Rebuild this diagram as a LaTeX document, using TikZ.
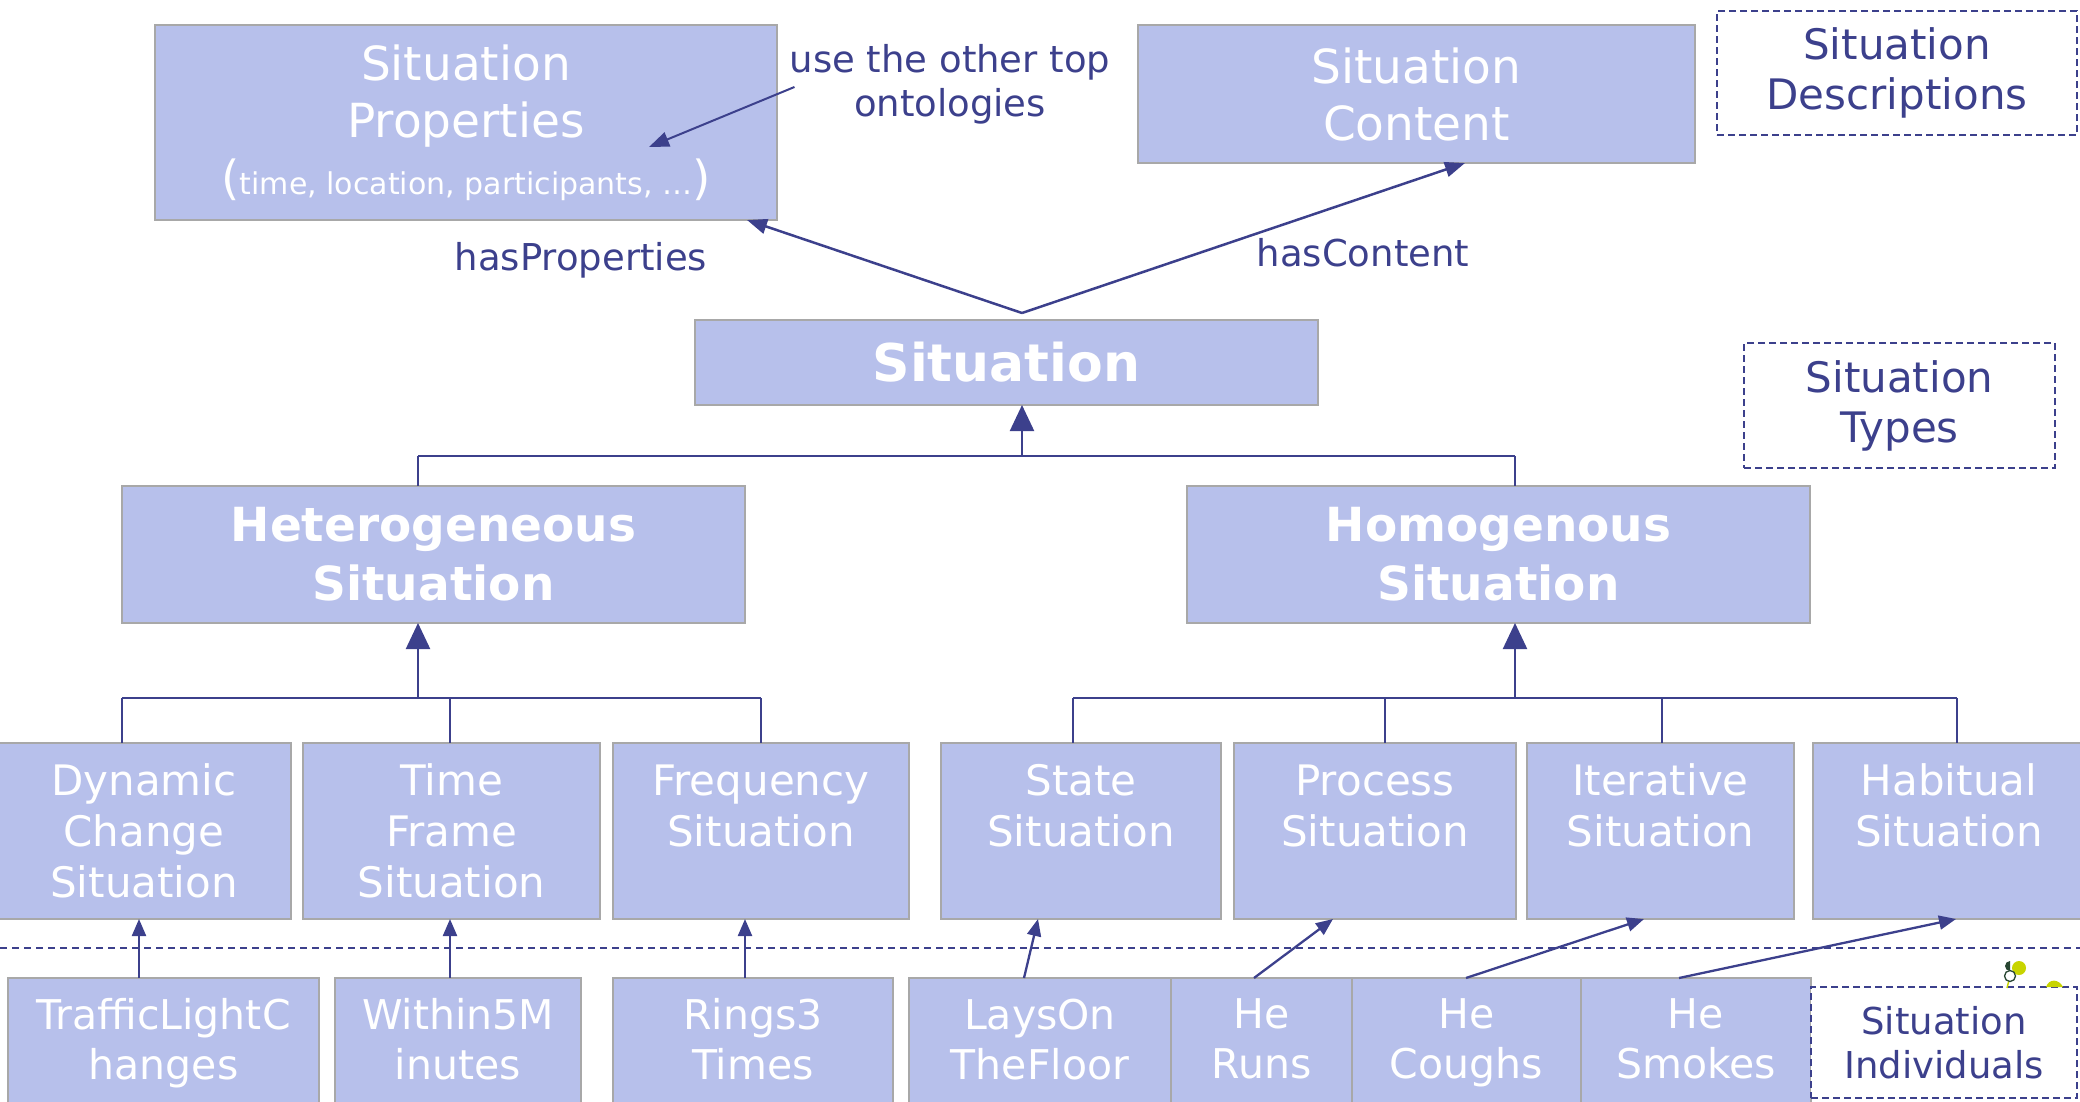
\documentclass[tikz,border=0pt]{standalone}
\usepackage{fontspec}
\setmainfont{DejaVu Sans}
\usetikzlibrary{arrows.meta}
\definecolor{boxfill}{RGB}{183,192,235}
\definecolor{boxline}{RGB}{168,168,168}
\definecolor{ink}{RGB}{60,64,140}
\definecolor{leaf}{RGB}{200,212,0}
\definecolor{leafdark}{RGB}{40,70,50}

\begin{document}
\begin{tikzpicture}[x=1pt,y=-1pt,
  box/.style={rectangle, draw=boxline, line width=2.5pt, fill=boxfill, text=white,
    inner sep=0pt, outer sep=0pt, align=center},
  tagbox/.style={rectangle, draw=ink, line width=2pt, dash pattern=on 7pt off 4pt,
    fill=white, text=ink, inner sep=0pt, outer sep=0pt, align=center},
  lbl/.style={text=ink, inner sep=0pt, align=center, font=\fontsize{37}{44}\selectfont},
  ftop/.style={font=\fontsize{47}{57}\selectfont},
  fmain/.style={font=\bfseries\fontsize{52}{60}\selectfont},
  fmid/.style={font=\bfseries\fontsize{47}{59}\selectfont},
  flow/.style={font=\fontsize{42}{51}\selectfont},
  fbot/.style={font=\fontsize{41}{50}\selectfont, execute at end node={\strut}},
  ftag/.style={font=\fontsize{42}{50}\selectfont},
  wire/.style={draw=ink, line width=2pt},
  bar/.style={draw=ink, line width=2.6pt},
  bigarr/.style={draw=ink, line width=2.2pt, -{Triangle[length=26pt,width=24pt]}},
  midarr/.style={draw=ink, line width=2.5pt, -{Triangle[length=20pt,width=15pt]}},
  smallarr/.style={draw=ink, line width=2.3pt, -{Triangle[length=17pt,width=14pt]}},
]
\useasboundingbox (0,0) rectangle (2080,1101);
\clip (0,0) rectangle (2080,1101);

% ---------- descriptions ----------
\node[box, ftop, minimum width=622pt, minimum height=195pt] (prop) at (466,122.5)
  {Situation\\Properties\\({\fontsize{30}{57}\selectfont time, location, participants, …})};
\node[box, ftop, minimum width=557pt, minimum height=138pt] (cont) at (1416.5,94)
  {Situation\\Content};
\node[tagbox, ftag, minimum width=360pt, minimum height=124pt] (descr) at (1897,73)
  {Situation\\Descriptions};
\node[lbl] (note) at (950,84) {use the other top\\ontologies};
\node[lbl] (hasprop) at (581,260) {hasProperties};
\node[lbl] (hascont) at (1363,253) {hasContent};

% ---------- types ----------
\node[box, fmain, minimum width=623pt, minimum height=85pt] (sit) at (1006.5,362.5) {Situation};
\node[tagbox, ftag, minimum width=311pt, minimum height=125pt] (types) at (1899.5,405.5)
  {Situation\\Types};
\node[box, fmid, minimum width=623pt, minimum height=137pt] (het) at (433.5,554.5)
  {Heterogeneous\\Situation};
\node[box, fmid, minimum width=623pt, minimum height=137pt] (hom) at (1498.5,554.5)
  {Homogenous\\Situation};

\begin{scope}[every node/.style={box, flow, minimum height=176pt}]
  \node[minimum width=294pt] (dyn)   at (144,831)    {Dynamic\\Change\\Situation};
  \node[minimum width=297pt] (time)  at (451.5,831)  {Time\\Frame\\Situation};
  \node[minimum width=296pt] (freq)  at (761,831)    {Frequency\\Situation\\~};
  \node[minimum width=280pt] (state) at (1081,831)   {State\\Situation\\~};
  \node[minimum width=282pt] (proc)  at (1375,831)   {Process\\Situation\\~};
  \node[minimum width=267pt] (iter)  at (1660.5,831) {Iterative\\Situation\\~};
  \node[minimum width=272pt] (habit) at (1949,831)   {Habitual\\Situation\\~};
\end{scope}

% ---------- individuals ----------
\coordinate (sepL) at (0,948);
\coordinate (sepR) at (2080,948);
\draw[ink, line width=2.2pt, dash pattern=on 7pt off 5pt] (sepL) -- (sepR);

\begin{scope}[every node/.style={box, fbot, minimum height=137pt}]
  \node[minimum width=311pt] (traffic) at (163.5,1046.5) {TrafficLightC\\hanges};
  \node[minimum width=246pt] (within)  at (458,1046.5)   {Within5M\\inutes};
  \node[minimum width=280pt] (rings)   at (753,1046.5)   {Rings3\\Times};
  \node[minimum width=262pt] (lays)    at (1040,1046.5)  {LaysOn\\TheFloor};
  \node[minimum width=181pt] (runs)    at (1261.5,1046.5){He\\Runs};
  \node[minimum width=229pt] (coughs)  at (1466.5,1046.5){He\\Coughs};
  \node[minimum width=230pt] (smokes)  at (1696,1046.5)  {He\\Smokes};
\end{scope}
\node[tagbox, font=\fontsize{37}{44}\selectfont, minimum width=266pt, minimum height=111pt]
  (indiv) at (1944,1042.5) {Situation\\Individuals};

% ---------- relations of the situation ----------
\coordinate (apex) at (1022,313);
\coordinate (notetip) at (649,147);
\draw[midarr] (apex) -- (747,0 |- prop.south);
\draw[midarr] (apex) -- (1465,0 |- cont.south);
\draw[midarr, line width=2pt] ([shift={(5,3)}]note.west) -- (notetip);

% ---------- subtype hierarchy ----------
\coordinate (jtop) at (1022,456);
\coordinate (jl) at (418,456);
\coordinate (jr) at (1515,456);
\draw[bigarr] (jtop) -- (jtop |- sit.south);
\draw[bar] (jl) -- (jr);
\draw[wire] (jl) -- (jl |- het.north);
\draw[wire] (jr) -- (jr |- hom.north);

\coordinate (kh) at (418,698);
\coordinate (km) at (1515,698);
\draw[bigarr] (kh) -- (kh |- het.south);
\draw[bigarr] (km) -- (km |- hom.south);
\draw[bar] (122,698) -- (761,698);
\draw[bar] (1073,698) -- (1957,698);
\draw[wire] (122,698) -- (122,0 |- dyn.north);
\draw[wire] (450,698) -- (450,0 |- time.north);
\draw[wire] (761,698) -- (761,0 |- freq.north);
\draw[wire] (1073,698) -- (1073,0 |- state.north);
\draw[wire] (1385,698) -- (1385,0 |- proc.north);
\draw[wire] (1662,698) -- (1662,0 |- iter.north);
\draw[wire] (1957,698) -- (1957,0 |- habit.north);

% ---------- instance links ----------
\draw[smallarr] (139,0 |- traffic.north) -- (139,0 |- dyn.south);
\draw[smallarr] (450,0 |- within.north) -- (450,0 |- time.south);
\draw[smallarr] (745,0 |- rings.north) -- (745,0 |- freq.south);
\draw[smallarr] (1024,0 |- lays.north) -- (1038,0 |- state.south);
\draw[smallarr] (1254,0 |- runs.north) -- (1333,0 |- proc.south);
\draw[smallarr] (1466,0 |- coughs.north) -- (1644,0 |- iter.south);
\draw[smallarr] (1679,0 |- smokes.north) -- (1956,0 |- habit.south);

% ---------- corner emblem ----------
\fill[leaf] (2019,968) circle (7);
\draw[leaf, line width=1.5pt] (2010,976) -- (2007,988);
\fill[white] (2010,976) circle (5.5);
\draw[leafdark, line width=1.3pt] (2010,976) circle (5.5);
\fill[leafdark] (2010,976) ++(0,-5) arc (90:270:5) -- cycle;
\fill[leaf] (2046,987) .. controls (2049,978) and (2059,979) .. (2063,987) -- cycle;
\end{tikzpicture}
\end{document}
